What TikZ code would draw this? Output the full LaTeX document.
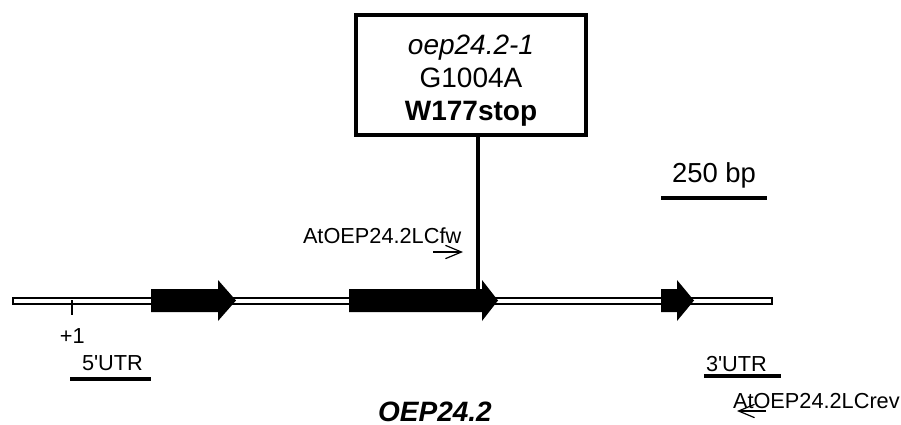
\documentclass[tikz,border=0pt]{standalone}
\usepackage{fontspec}
\setmainfont{Liberation Sans}
\usepackage{tikz}
\usetikzlibrary{arrows.meta}

\begin{document}
\begin{tikzpicture}[
				      x=0.75pt, y=-0.75pt,
				      every node/.style = {inner sep=0pt, outer sep=0pt},
				      label/.style = {anchor=base west, font=\fontsize{16.3}{19}\selectfont},
				      mutbox/.style = {draw, line width=3pt, minimum width=172.5pt, minimum height=90pt},
				      boxtext/.style = {align=center, font=\fontsize{21}{24.75}\selectfont},
				      bar/.style = {line width=3pt},
				      primer/.style = {line width=0.9pt, -{Straight Barb[length=12pt, width=10pt]}}
			      ]
			      \useasboundingbox (0,0) rectangle (901,425);

			      % gene with exons
			      \draw[fill=white, line width=1.3pt] (13,298) rectangle (772,304);
			      \foreach \a/\b/\c in {151/218/236, 349/482/498, 661/677/694}
			      \fill (\a,289) -- (\b,289) -- (\b,280) -- (\c,300.5) -- (\b,321) -- (\b,312) -- (\a,312) -- cycle;
			      \draw[line width=1.5pt] (72,300) -- (72,315);
			      \node[label] (plusone) at (60,343) {+1};

			      % mutation
			      \node[mutbox] (mutation) at (471,75) {};
			      \node[boxtext] (mutlabel) at (471,81) {\textit{oep24.2-1}\\G1004A\\\textbf{W177stop}};
			      \coordinate (site) at (478,289);
			      \draw[bar, line width=3.6pt] (site |- mutation.south) -- (site);

			      % primers
			      \node[label] (fwlabel) at (303,243) {AtOEP24.2LCfw};
			      \coordinate (fwstart) at (433,252);
			      \coordinate (fwend) at (463,252);
			      \draw[primer] (fwstart) -- (fwend);
			      \node[label] (revlabel) at (733,408) {AtOEP24.2LCrev};
			      \coordinate (revstart) at (766,411);
			      \coordinate (revend) at (737,411);
			      \draw[primer] (revstart) -- (revend);

			      % UTRs and scale
			      \node[label] (utrfive) at (82,370) {5\textquotesingle UTR};
			      \draw[bar] (70,379) -- (151,379);
			      \node[label] (utrthree) at (706,371) {3\textquotesingle UTR};
			      \draw[bar] (704,376) -- (781,376);
			      \node[label, font=\fontsize{20.6}{24}\selectfont] (scale) at (672,182) {250 bp};
			      \draw[bar] (661,198) -- (767,198);

			      \node[anchor=base, font=\fontsize{21}{24}\selectfont\bfseries\itshape] (genename) at (435,421) {OEP24.2};
		      \end{tikzpicture}
\end{document}
